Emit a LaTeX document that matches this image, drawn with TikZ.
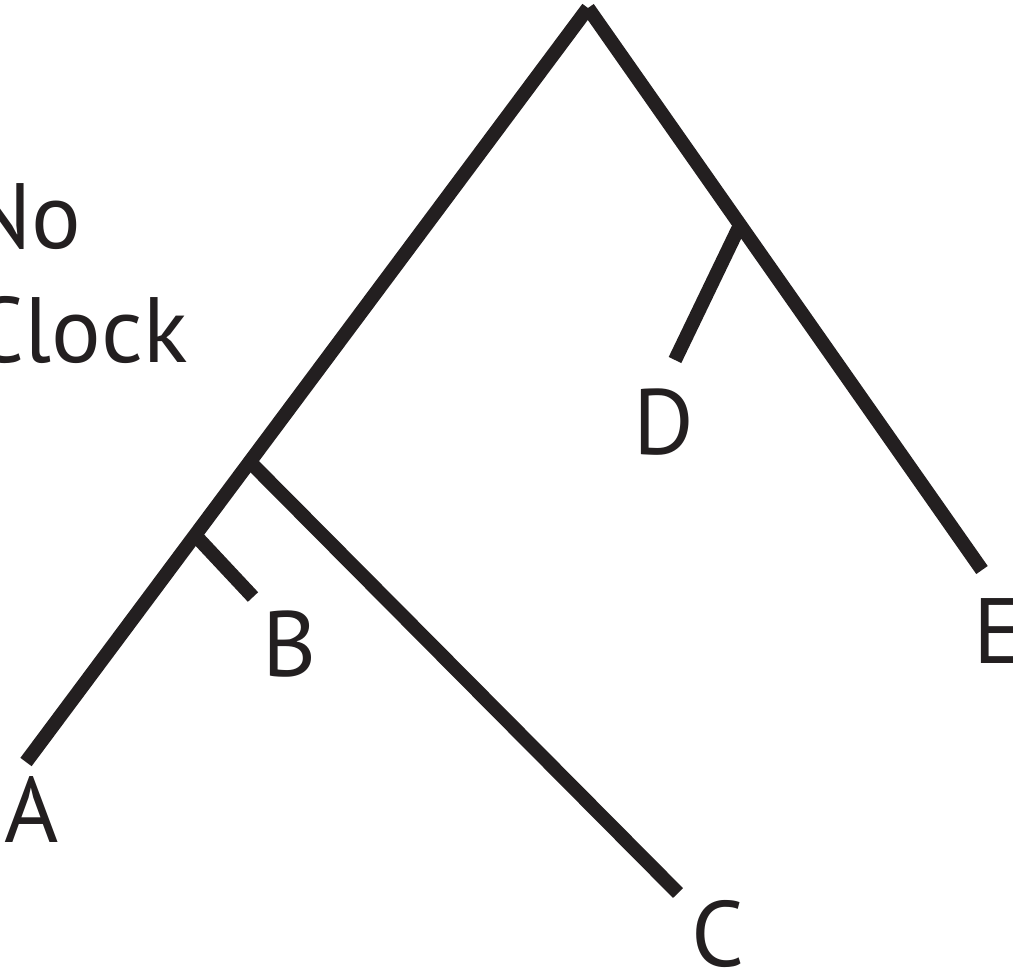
\documentclass[tikz,border=0pt]{standalone}
\usepackage{fontspec}
\setmainfont{PT Sans}
\definecolor{ink}{HTML}{231F20}
\begin{document}
\begin{tikzpicture}[x=0.75pt,y=-0.75pt,
  branch/.style={draw=ink,line width=10.5pt,line cap=butt},
  lbl/.style={inner sep=0pt,text=ink,font=\fontsize{69.6}{80}\selectfont}]
\useasboundingbox (0,0) rectangle (1013,972);
% tree points
\coordinate (root) at (588,8);
\coordinate (leafA) at (26,762);
\coordinate (leafE) at (982,570);
\coordinate (nAC) at (250,462);
\coordinate (nAB) at (195,535);
\coordinate (nDE) at (740,225);
\coordinate (leafB) at (253,597);
\coordinate (leafC) at (678,893);
\coordinate (leafD) at (675,360);
% branches
\draw[branch] (root) -- (leafA);
\draw[branch] (root) -- (leafE);
\draw[branch] (nAC) -- (leafC);
\draw[branch] (nAB) -- (leafB);
\draw[branch] (nDE) -- (leafD);
% labels
\node[lbl,anchor=base east] (no) at (82,248) {No};
\node[lbl,anchor=base east] (clock) at (188,362) {Clock};
\node[lbl,anchor=base] (A) at (32,842) {A};
\node[lbl,anchor=base] (B) at (290,676) {B};
\node[lbl,anchor=base] (C) at (718,966) {C};
\node[lbl,anchor=base] (D) at (664,454) {D};
\node[lbl,anchor=base west] (E) at (973,663) {E};
\end{tikzpicture}
\end{document}
